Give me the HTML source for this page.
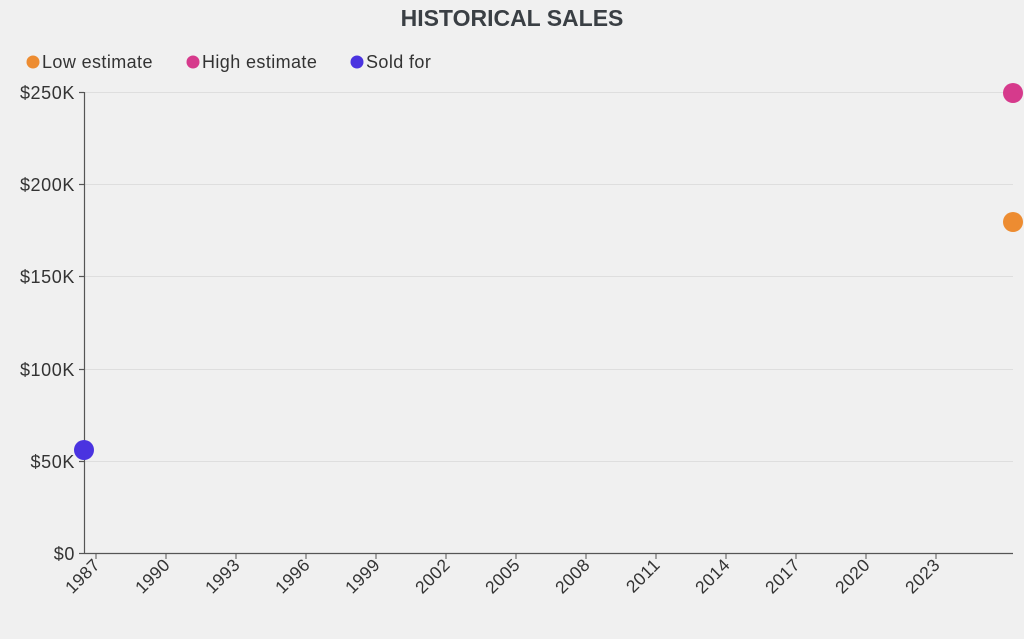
<!DOCTYPE html>
<html><head><style>
body{margin:0;background:#f0f0f0;font-family:"Liberation Sans",sans-serif;}
</style></head><body>
<svg width="1024" height="634" xmlns="http://www.w3.org/2000/svg" font-family="Liberation Sans, sans-serif">
<rect width="1024" height="634" fill="#f0f0f0"/>
<text x="512" y="26" text-anchor="middle" font-size="23" font-weight="bold" fill="#3a3f44">HISTORICAL SALES</text>
<g font-size="18" fill="#333" letter-spacing="0.4">
<circle cx="33" cy="62" r="6.5" fill="#ed8c31"/><text x="42" y="68">Low estimate</text>
<circle cx="193" cy="62" r="6.5" fill="#d63a8c"/><text x="202" y="68">High estimate</text>
<circle cx="357" cy="62" r="6.5" fill="#4a33e0"/><text x="366" y="68">Sold for</text>
</g>
<g stroke="#dedede" stroke-width="1">
<line x1="85" x2="1013" y1="92.5" y2="92.5"/><line x1="85" x2="1013" y1="184.5" y2="184.5"/>
<line x1="85" x2="1013" y1="276.5" y2="276.5"/><line x1="85" x2="1013" y1="369.5" y2="369.5"/>
<line x1="85" x2="1013" y1="461.5" y2="461.5"/>
</g>
<g stroke="#555" stroke-width="1.2">
<line x1="84.5" y1="92" x2="84.5" y2="553"/><line x1="84" y1="553.5" x2="1013" y2="553.5"/>
<line x1="79" x2="84" y1="92.5" y2="92.5"/><line x1="79" x2="84" y1="184.5" y2="184.5"/><line x1="79" x2="84" y1="276.5" y2="276.5"/><line x1="79" x2="84" y1="369.5" y2="369.5"/><line x1="79" x2="84" y1="461.5" y2="461.5"/><line x1="79" x2="84" y1="553.5" y2="553.5"/>
</g>
<g font-size="18" fill="#333" text-anchor="end" letter-spacing="0.6">
<text x="75" y="99">$250K</text><text x="75" y="191">$200K</text><text x="75" y="283">$150K</text><text x="75" y="376">$100K</text><text x="75" y="468">$50K</text><text x="75" y="560">$0</text>
</g>
<g font-size="17.5" fill="#333" text-anchor="end" stroke="#555" letter-spacing="0.4">
<line x1="96" x2="96" y1="553" y2="559"/><text stroke="none" transform="translate(101,566) rotate(-45)">1987</text>
<line x1="166" x2="166" y1="553" y2="559"/><text stroke="none" transform="translate(171,566) rotate(-45)">1990</text>
<line x1="236" x2="236" y1="553" y2="559"/><text stroke="none" transform="translate(241,566) rotate(-45)">1993</text>
<line x1="306" x2="306" y1="553" y2="559"/><text stroke="none" transform="translate(311,566) rotate(-45)">1996</text>
<line x1="376" x2="376" y1="553" y2="559"/><text stroke="none" transform="translate(381,566) rotate(-45)">1999</text>
<line x1="446" x2="446" y1="553" y2="559"/><text stroke="none" transform="translate(451,566) rotate(-45)">2002</text>
<line x1="516" x2="516" y1="553" y2="559"/><text stroke="none" transform="translate(521,566) rotate(-45)">2005</text>
<line x1="586" x2="586" y1="553" y2="559"/><text stroke="none" transform="translate(591,566) rotate(-45)">2008</text>
<line x1="656" x2="656" y1="553" y2="559"/><text stroke="none" transform="translate(661,566) rotate(-45)">2011</text>
<line x1="726" x2="726" y1="553" y2="559"/><text stroke="none" transform="translate(731,566) rotate(-45)">2014</text>
<line x1="796" x2="796" y1="553" y2="559"/><text stroke="none" transform="translate(801,566) rotate(-45)">2017</text>
<line x1="866" x2="866" y1="553" y2="559"/><text stroke="none" transform="translate(871,566) rotate(-45)">2020</text>
<line x1="936" x2="936" y1="553" y2="559"/><text stroke="none" transform="translate(941,566) rotate(-45)">2023</text>
</g>
<circle cx="84" cy="450" r="10" fill="#4a33e0"/>
<circle cx="1013" cy="93" r="10" fill="#d63a8c"/>
<circle cx="1013" cy="222" r="10" fill="#ed8c31"/>
</svg>
</body></html>
